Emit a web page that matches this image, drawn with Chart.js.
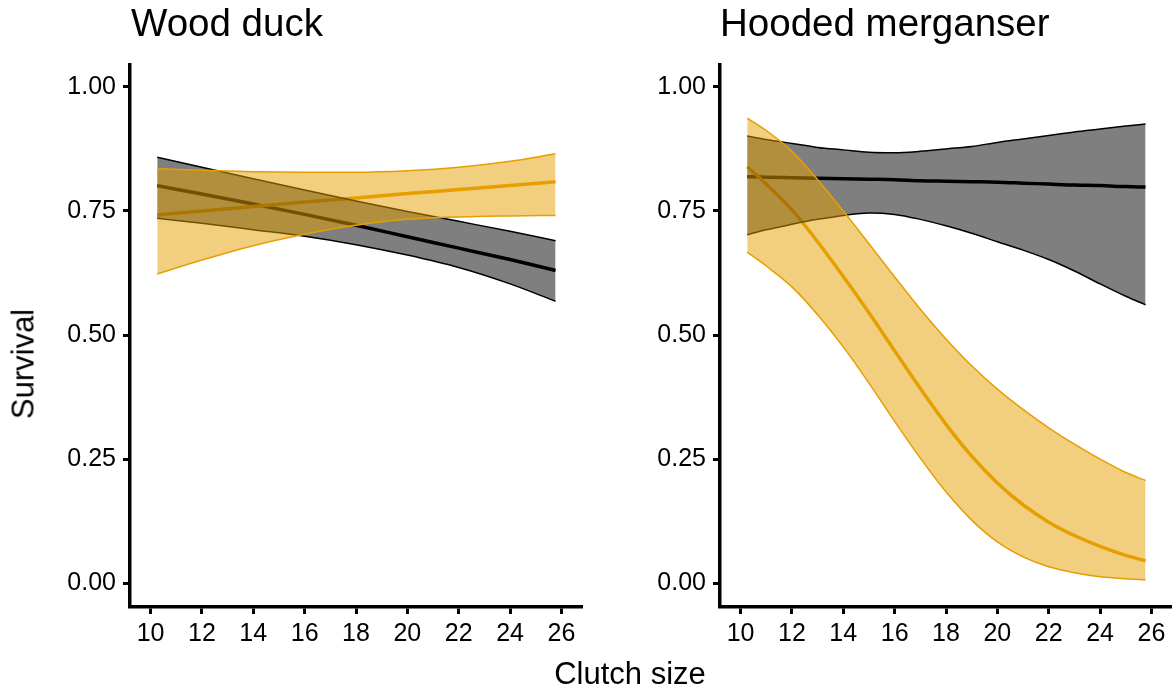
<!DOCTYPE html>
<html>
<head>
<meta charset="utf-8">
<script src="https://cdn.jsdelivr.net/npm/chart.js@4.4.1/dist/chart.umd.min.js"></script>
<style>
  body { margin: 0; background: #fff; width: 1172px; height: 695px; overflow: hidden; position: relative;
         font-family: "Liberation Sans", Arial, sans-serif; color: #000; }
  canvas { position: absolute; top: 0; }
  .lbl { position: absolute; white-space: nowrap; line-height: 1; }
  .title { font-size: 38.5px; top: 4px; }
  .axis { font-size: 31px; }
</style>
</head>
<body>
<canvas id="wood" width="586" height="660" style="left:0px"></canvas>
<canvas id="merg" width="582" height="660" style="left:590px"></canvas>
<div class="lbl title" style="left:131px">Wood duck</div>
<div class="lbl title" style="left:720px">Hooded merganser</div>
<div class="lbl axis" style="left:23px; top:364px; transform: translate(-50%,-50%) rotate(-90deg)">Survival</div>
<div class="lbl axis" style="left:630px; top:658px; transform: translateX(-50%)">Clutch size</div>
<script>
const yTicks = [0, 0.25, 0.5, 0.75, 1];
const xTicks = [10, 12, 14, 16, 18, 20, 22, 24, 26];

// Wood duck, clutch sizes where the curves were read
const woodX = [10.26, 12, 14, 16, 18, 20, 22, 24, 25.77];
const woodBlackFit   = [0.801, 0.784, 0.764, 0.743, 0.721, 0.698, 0.675, 0.652, 0.630];
const woodBlackUpper = [0.858, 0.838, 0.815, 0.792, 0.770, 0.749, 0.729, 0.709, 0.690];
const woodBlackLower = [0.735, 0.725, 0.712, 0.699, 0.682, 0.661, 0.636, 0.603, 0.568];
const woodOrangeFit   = [0.742, 0.750, 0.759, 0.768, 0.776, 0.785, 0.793, 0.801, 0.809];
const woodOrangeUpper = [0.835, 0.832, 0.829, 0.828, 0.828, 0.831, 0.838, 0.850, 0.865];
const woodOrangeLower = [0.623, 0.651, 0.680, 0.703, 0.721, 0.733, 0.738, 0.740, 0.741];

// Hooded merganser
const mergX = [10.26, 11, 12, 13, 14, 15, 16, 17, 18, 19, 20, 21, 22, 23, 24, 25, 25.77];
const mergBlackFit   = [0.819, 0.818, 0.817, 0.816, 0.815, 0.814, 0.813, 0.811, 0.810, 0.809, 0.808, 0.806, 0.804, 0.802, 0.801, 0.799, 0.798];
const mergBlackUpper = [0.901, 0.894, 0.886, 0.878, 0.873, 0.868, 0.867, 0.870, 0.875, 0.880, 0.888, 0.895, 0.902, 0.909, 0.915, 0.921, 0.925];
const mergBlackLower = [0.702, 0.712, 0.723, 0.733, 0.741, 0.746, 0.743, 0.733, 0.720, 0.705, 0.688, 0.671, 0.652, 0.629, 0.603, 0.578, 0.561];
const mergOrangeFit   = [0.839, 0.804, 0.752, 0.688, 0.618, 0.545, 0.468, 0.392, 0.320, 0.256, 0.202, 0.158, 0.123, 0.096, 0.074, 0.056, 0.045];
const mergOrangeUpper = [0.937, 0.912, 0.870, 0.813, 0.750, 0.684, 0.617, 0.552, 0.492, 0.438, 0.391, 0.350, 0.313, 0.280, 0.250, 0.223, 0.207];
const mergOrangeLower = [0.667, 0.639, 0.597, 0.541, 0.476, 0.403, 0.326, 0.252, 0.184, 0.127, 0.083, 0.053, 0.033, 0.021, 0.013, 0.009, 0.007];

const ORANGE = '#E69F00';

function line(xs, ys, color, width, order, fill, bg) {
    return {
        data: xs.map((x, i) => ({x: x, y: ys[i]})),
        borderColor: color,
        borderWidth: width,
        backgroundColor: bg || 'transparent',
        fill: fill || false,
        order: order,
        pointRadius: 0,
        cubicInterpolationMode: 'monotone'
    };
}

function makePanel(id, xs, bFit, bUp, bLo, oFit, oUp, oLo, padRight) {
    // lower order is drawn on top: orange ribbon > grey ribbon > fitted lines
    const datasets = [
        line(xs, oUp, ORANGE, 1.5, 1, '+1', 'rgba(230,159,0,0.5)'),
        line(xs, oLo, ORANGE, 1.5, 1),
        line(xs, bUp, '#000', 1.5, 2, '+1', 'rgba(0,0,0,0.5)'),
        line(xs, bLo, '#000', 1.5, 2),
        line(xs, oFit, ORANGE, 3.5, 3),
        line(xs, bFit, '#000', 3.5, 3)
    ];
    const tickFont = {family: '"Liberation Sans", Arial, sans-serif', size: 25};
    return new Chart(document.getElementById(id), {
        type: 'line',
        data: {datasets: datasets},
        options: {
            responsive: false,
            animation: false,
            layout: {padding: {top: 65, right: padRight, left: 0, bottom: 0}},
            plugins: {legend: {display: false}, tooltip: {enabled: false}},
            scales: {
                x: {
                    type: 'linear', min: 9.2, max: 26.8,
                    afterBuildTicks: s => { s.ticks = xTicks.map(v => ({value: v})); },
                    afterFit: s => { s.height = 53; },
                    border: {display: true, color: '#000', width: 3.5},
                    grid: {drawOnChartArea: false, drawTicks: true, tickLength: 7, tickWidth: 3, tickColor: '#000'},
                    ticks: {color: '#000', font: tickFont, padding: 5, maxRotation: 0}
                },
                y: {
                    min: -0.048, max: 1.044,
                    afterBuildTicks: s => { s.ticks = yTicks.map(v => ({value: v})); },
                    afterFit: s => { s.width = 130; },
                    border: {display: true, color: '#000', width: 3.5},
                    grid: {drawOnChartArea: false, drawTicks: true, tickLength: 7, tickWidth: 3, tickColor: '#000'},
                    ticks: {color: '#000', font: tickFont, padding: 7, callback: v => v.toFixed(2)}
                }
            }
        }
    });
}

makePanel('wood', woodX, woodBlackFit, woodBlackUpper, woodBlackLower, woodOrangeFit, woodOrangeUpper, woodOrangeLower, 4);
makePanel('merg', mergX, mergBlackFit, mergBlackUpper, mergBlackLower, mergOrangeFit, mergOrangeUpper, mergOrangeLower, 0);
</script>
</body>
</html>
